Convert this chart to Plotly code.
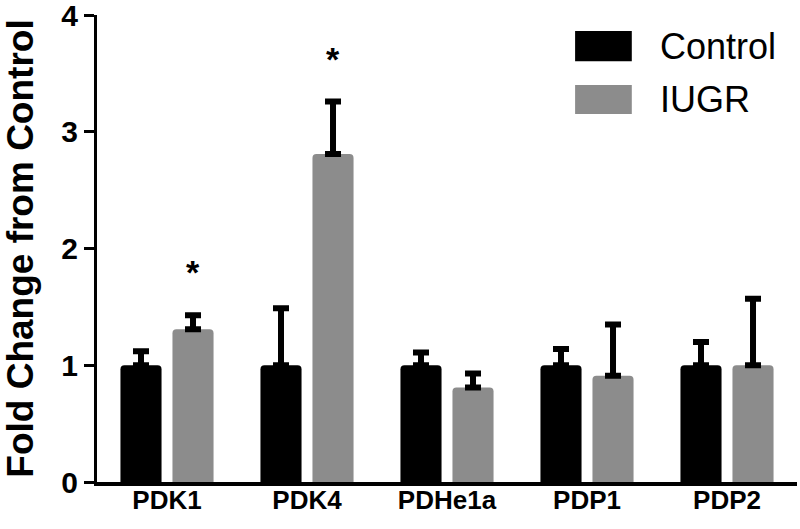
import plotly.graph_objects as go

categories = ["PDK1", "PDK4", "PDHe1a", "PDP1", "PDP2"]
control_vals = [1.0, 1.0, 1.0, 1.0, 1.0]
control_err = [0.12, 0.49, 0.11, 0.14, 0.20]
iugr_vals = [1.31, 2.81, 0.81, 0.91, 1.0]
iugr_err = [0.12, 0.45, 0.12, 0.44, 0.57]
significant = [True, True, False, False, False]
y_ticks = [0, 1, 2, 3, 4]

BLACK = "#000000"
GRAY = "#8c8c8c"

fig = go.Figure()
fig.add_trace(go.Bar(
    x=categories, y=control_vals, name="Control",
    marker=dict(color=BLACK, line=dict(width=0), cornerradius=4),
    error_y=dict(type="data", array=control_err, arrayminus=[0]*5, symmetric=False,
                 color=BLACK, thickness=6, width=8),
    showlegend=False,
))
fig.add_trace(go.Bar(
    x=categories, y=iugr_vals, name="IUGR",
    marker=dict(color=GRAY, line=dict(width=0), cornerradius=4),
    error_y=dict(type="data", array=iugr_err, arrayminus=[0]*5, symmetric=False,
                 color=BLACK, thickness=6, width=8),
    showlegend=False,
))

for i, cat in enumerate(categories):
    if significant[i]:
        fig.add_annotation(x=cat, y=iugr_vals[i] + iugr_err[i], xref="x", yref="y",
                           text="<b>*</b>", showarrow=False, xshift=26, yshift=22,
                           yanchor="bottom",
                           font=dict(family="Liberation Sans, Arial, sans-serif", size=34, color=BLACK))

# legend drawn manually to match the large swatches
legend_items = [("Control", BLACK, 0.966, 0.901), ("IUGR", GRAY, 0.850, 0.788)]
for label, col, y1, y0 in legend_items:
    fig.add_shape(type="rect", xref="paper", yref="paper", x0=0.683, x1=0.764, y0=y0, y1=y1,
                  fillcolor=col, line=dict(width=0))
    fig.add_annotation(xref="paper", yref="paper", x=0.801, y=(y0 + y1) / 2, text=label,
                       showarrow=False, xanchor="left", yanchor="middle",
                       font=dict(family="Liberation Sans, Arial, sans-serif", size=36, color=BLACK))

fig.update_layout(
    width=800, height=529,
    margin=dict(l=97, r=3, t=15, b=47),
    paper_bgcolor="white", plot_bgcolor="white",
    barmode="group", bargap=0.257, bargroupgap=0.21,
    font=dict(family="Liberation Sans, Arial, sans-serif", color=BLACK),
)
fig.update_xaxes(
    range=[-0.5, 4.5], showline=True, linewidth=4, linecolor=BLACK, ticks="",
    showgrid=False, zeroline=False, ticklabelstandoff=-8, automargin=False,
    tickfont=dict(family="Liberation Sans, Arial, sans-serif", size=26, weight="bold"),
)
fig.update_yaxes(
    range=[0, 4.002], tickvals=y_ticks, ticktext=[f"<b>{t}</b>" for t in y_ticks],
    showline=True, linewidth=3, linecolor=BLACK, ticks="outside", ticklen=10, tickwidth=3,
    tickcolor=BLACK, showgrid=False, zeroline=False, ticklabeloverflow="allow",
    automargin=False,
    tickfont=dict(size=30),
    title=dict(text="<b>Fold Change from Control</b>", font=dict(size=37), standoff=39),
)

fig.write_html("out.html", config={"displayModeBar": False},
               post_script="document.body.style.margin='0px';")
